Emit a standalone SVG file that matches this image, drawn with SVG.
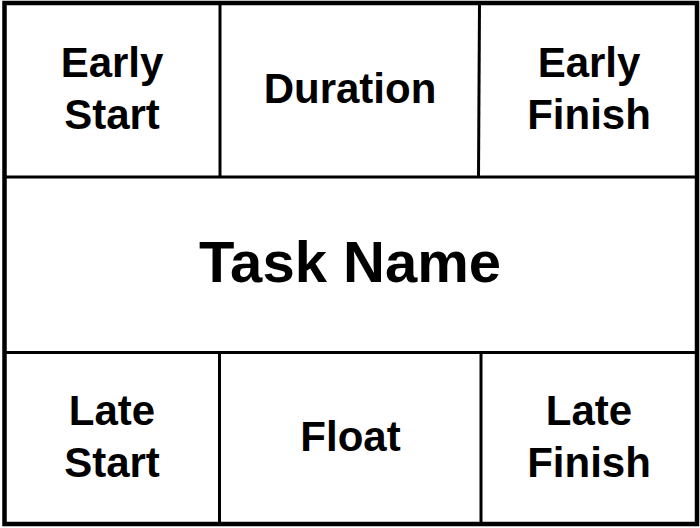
<svg xmlns="http://www.w3.org/2000/svg" width="700" height="528" viewBox="0 0 700 528">
<style>
.t{font-family:"Liberation Sans",Arial,sans-serif;font-weight:bold;fill:#000;text-anchor:middle;font-size:42px}
.big{font-size:58px}
.ln{stroke:#000;stroke-width:3;fill:none}
</style>
<rect x="0" y="0" width="700" height="528" fill="#fff"/>
<g id="connectors">
<line class="ln" x1="4" y1="177" x2="697" y2="177"/>
<line class="ln" x1="4" y1="352.5" x2="697" y2="352.5"/>
<line class="ln" x1="220" y1="3" x2="220" y2="177"/>
<line class="ln" x1="479.5" y1="3" x2="478.5" y2="177"/>
<line class="ln" x1="219.5" y1="352.5" x2="219.5" y2="524"/>
<line class="ln" x1="481" y1="352.5" x2="481" y2="524"/>
</g>
<g id="frame">
<rect x="4.5" y="3" width="692.5" height="521" fill="none" stroke="#000" stroke-width="4.5"/>
</g>
<g id="early-start"><text class="t" x="112" y="77">Early</text><text class="t" x="112" y="129">Start</text></g>
<g id="duration"><text class="t" x="350" y="103">Duration</text></g>
<g id="early-finish"><text class="t" x="589" y="77">Early</text><text class="t" x="589" y="129">Finish</text></g>
<g id="task-name"><text class="t big" x="350" y="282">Task Name</text></g>
<g id="late-start"><text class="t" x="112" y="425">Late</text><text class="t" x="112" y="477">Start</text></g>
<g id="float"><text class="t" x="350.5" y="451">Float</text></g>
<g id="late-finish"><text class="t" x="589" y="425">Late</text><text class="t" x="589" y="477">Finish</text></g>
</svg>
